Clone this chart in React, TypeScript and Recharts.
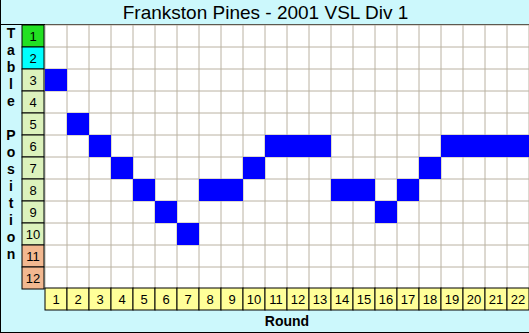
import React from "react";
import {
  ScatterChart,
  Scatter,
  XAxis,
  YAxis,
  ReferenceLine,
} from "recharts";

const rounds = [1, 2, 3, 4, 5, 6, 7, 8, 9, 10, 11, 12, 13, 14, 15, 16, 17, 18, 19, 20, 21, 22];
const positions = [3, 5, 6, 7, 8, 9, 10, 8, 8, 7, 6, 6, 6, 8, 8, 9, 8, 7, 6, 6, 6, 6];
const tablePlaces = [1, 2, 3, 4, 5, 6, 7, 8, 9, 10, 11, 12];

const W = 529;
const H = 333;
const LEFT = 45;
const TOP = 25;
const CELL = 22;
const BOTTOM = TOP + CELL * tablePlaces.length;

const data = rounds.map((r, i) => ({ round: r, pos: positions[i] }));

const xBounds = [...rounds.map((r) => r - 0.5), rounds.length + 0.5];
const yBounds = [...tablePlaces.map((p) => p - 0.5), tablePlaces.length + 0.5];

const placeColor = (p: number) => {
  if (p === 1) return "#22e022";
  if (p === 2) return "#00ffff";
  if (p >= 11) return "#f2b890";
  return "#dcf2bc";
};

const font = "'Liberation Sans', Arial, sans-serif";

function YTick(props: any) {
  const { y, payload } = props;
  return (
    <g>
      <rect x={LEFT - CELL - 1} y={y - CELL / 2} width={CELL} height={CELL} fill={placeColor(payload.value)} stroke="#000" />
      <text x={LEFT - CELL / 2 - 1} y={y + 5} textAnchor="middle" fontSize={13} fontFamily={font} fill="#000">
        {payload.value}
      </text>
    </g>
  );
}

function XTick(props: any) {
  const { x, payload } = props;
  return (
    <g>
      <rect x={x - CELL / 2} y={BOTTOM - 1} width={CELL} height={CELL} fill="#ffff99" stroke="#000" />
      <text x={x} y={BOTTOM + 15} textAnchor="middle" fontSize={13} fontFamily={font} fill="#000">
        {payload.value}
      </text>
    </g>
  );
}

function Cell(props: any) {
  const { cx, cy } = props;
  return <rect x={cx - CELL / 2} y={cy - CELL / 2} width={CELL} height={CELL} fill="#0000ff" />;
}

export default function App() {
  return (
    <div
      style={{
        position: "absolute",
        left: 0,
        top: 0,
        width: W,
        height: H,
        background: "#ccf8fc",
        boxSizing: "border-box",
        borderLeft: "1px solid #000",
        borderBottom: "1px solid #000",
        fontFamily: font,
        overflow: "hidden",
      }}
    >
      <div
        style={{
          position: "absolute",
          left: 0,
          top: 0,
          width: W,
          height: 24,
          borderBottom: "1px solid #000",
          textAlign: "center",
          fontSize: 19,
          lineHeight: "25px",
          color: "#000",
        }}
      >
        Frankston Pines - 2001 VSL Div 1
      </div>
      <div
        style={{
          position: "absolute",
          left: LEFT - 1,
          top: TOP,
          width: CELL * rounds.length,
          height: CELL * tablePlaces.length,
          background: "#fff",
        }}
      />
      <div
        style={{
          position: "absolute",
          left: 2,
          top: 25,
          width: 16,
          textAlign: "center",
          fontWeight: "bold",
          fontSize: 14,
          lineHeight: "17px",
        }}
      >
        {"Table Position".split("").map((c, i) => (
          <div key={i} style={{ height: 17 }}>{c === " " ? "\u00a0" : c}</div>
        ))}
      </div>
      <div
        style={{
          position: "absolute",
          left: LEFT - 1,
          width: CELL * rounds.length,
          textAlign: "center",
          top: 312,
          fontWeight: "bold",
          fontSize: 14,
          lineHeight: "18px",
        }}
      >
        Round
      </div>
      <div style={{ position: "absolute", left: -1, top: 0 }}>
        <ScatterChart width={W} height={H} margin={{ top: TOP, right: 0, bottom: 0, left: 0 }}>
          <XAxis
            type="number"
            dataKey="round"
            domain={[0.5, rounds.length + 0.5]}
            ticks={rounds}
            interval={0}
            height={H - BOTTOM}
            axisLine={false}
            tickLine={false}
            tick={<XTick />}
          />
          <YAxis
            type="number"
            dataKey="pos"
            domain={[0.5, tablePlaces.length + 0.5]}
            ticks={tablePlaces}
            interval={0}
            reversed
            width={LEFT}
            axisLine={false}
            tickLine={false}
            tick={<YTick />}
          />
          {xBounds.map((v) => (
            <ReferenceLine key={"x" + v} x={v} stroke="#bab2a2" />
          ))}
          {yBounds.map((v) => (
            <ReferenceLine key={"y" + v} y={v} stroke="#bab2a2" />
          ))}
          <Scatter data={data} shape={<Cell />} isAnimationActive={false} />
        </ScatterChart>
      </div>
    </div>
  );
}
